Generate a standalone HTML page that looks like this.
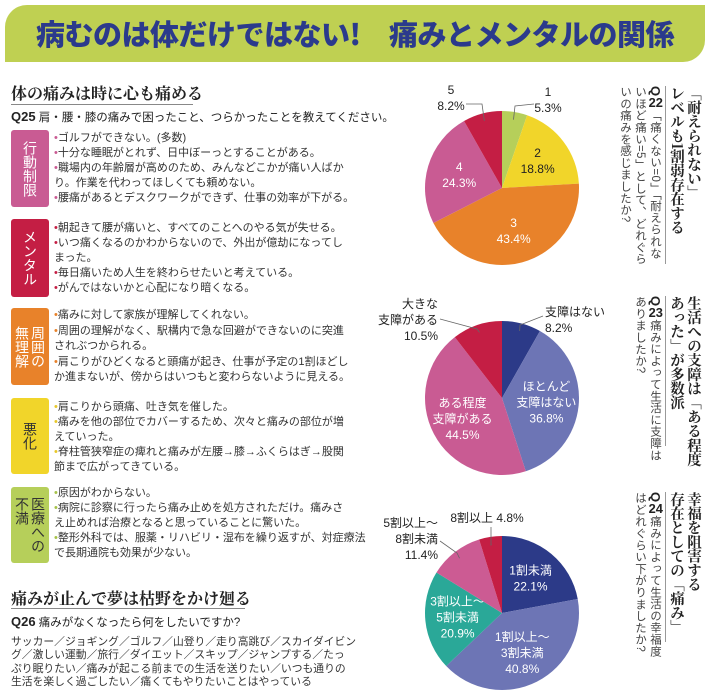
<!DOCTYPE html>
<html lang="ja"><head><meta charset="utf-8">
<style>
*{margin:0;padding:0;box-sizing:border-box}
body{width:710px;height:700px;background:#fff;position:relative;overflow:hidden;font-family:"Liberation Sans","Noto Sans CJK JP",sans-serif;color:#333}
.abs{position:absolute}
#band{left:5px;top:5px;width:700px;height:57px;background:#bfd052;border-radius:22px 0 22px 0}
#title{left:0;top:5px;width:710px;height:57px;line-height:57px;text-align:center;font-family:"Noto Sans CJK JP",sans-serif;font-weight:900;font-size:29px;color:#2b3a8c;letter-spacing:-0.5px}
.sec{font-family:"Noto Serif CJK SC","Liberation Serif",serif;font-weight:700;font-size:16px;color:#222;white-space:nowrap}
.rule{height:1px;background:#888}
.q{font-size:11.5px;white-space:nowrap;color:#222}
.q b{font-size:13px}
.box{left:11px;width:38px;border-radius:3px;color:#fff;font-size:14px;line-height:16px;display:flex;align-items:center;justify-content:center;writing-mode:vertical-rl;text-align:left}
.txt{left:54px;font-size:11px;line-height:15px;white-space:nowrap;color:#333}
.col{position:absolute;writing-mode:vertical-rl;white-space:nowrap}
.hd{font-family:"Noto Serif CJK SC","Liberation Serif",serif;font-weight:700;font-size:14.5px;line-height:15px;width:15px;color:#222;letter-spacing:-0.3px}
.vq{font-size:11.5px;line-height:12px;width:12px;color:#444;letter-spacing:0.3px}
.vq b{font-size:13px;color:#222}
.vq b.n{text-combine-upright:all}
.vline{width:1px;background:#999}
</style></head>
<body>
<div id="band" class="abs"></div>
<div id="title" class="abs">病むのは体だけではない!　痛みとメンタルの関係</div>

<div class="abs sec" style="left:11px;top:81px">体の痛みは時に心も痛める</div>
<div class="abs rule" style="left:11px;top:104px;width:182px"></div>
<div class="abs q" style="left:11px;top:109px"><b>Q25</b> 肩・腰・膝の痛みで困ったこと、つらかったことを教えてください。</div>

<div class="abs box" style="top:130px;height:77px;background:#c95b93">行動制限</div>
<div class="abs txt" style="top:131px"><span style="color:#c95b93">•</span>ゴルフができない。(多数)<br><span style="color:#c95b93">•</span>十分な睡眠がとれず、日中ぼーっとすることがある。<br><span style="color:#c95b93">•</span>職場内の年齢層が高めのため、みんなどこかが痛い人ばか<br>り。作業を代わってほしくても頼めない。<br><span style="color:#c95b93">•</span>腰痛があるとデスクワークができず、仕事の効率が下がる。</div>

<div class="abs box" style="top:219px;height:78px;background:#c41e44">メンタル</div>
<div class="abs txt" style="top:221px"><span style="color:#c41e44">•</span>朝起きて腰が痛いと、すべてのことへのやる気が失せる。<br><span style="color:#c41e44">•</span>いつ痛くなるのかわからないので、外出が億劫になってし<br>まった。<br><span style="color:#c41e44">•</span>毎日痛いため人生を終わらせたいと考えている。<br><span style="color:#c41e44">•</span>がんではないかと心配になり暗くなる。</div>

<div class="abs box" style="top:308px;height:77px;background:#e8822a">周囲の<br>無理解</div>
<div class="abs txt" style="top:308px;line-height:15.5px"><span style="color:#e8822a">•</span>痛みに対して家族が理解してくれない。<br><span style="color:#e8822a">•</span>周囲の理解がなく、駅構内で急な回避ができないのに突進<br>されぶつかられる。<br><span style="color:#e8822a">•</span>肩こりがひどくなると頭痛が起き、仕事が予定の1割ほどし<br>か進まないが、傍からはいつもと変わらないように見える。</div>

<div class="abs box" style="top:398px;height:76px;background:#f1d52a;color:#333">悪化</div>
<div class="abs txt" style="top:400px"><span style="color:#e8c82a">•</span>肩こりから頭痛、吐き気を催した。<br><span style="color:#e8c82a">•</span>痛みを他の部位でカバーするため、次々と痛みの部位が増<br>えていった。<br><span style="color:#e8c82a">•</span>脊柱管狭窄症の痺れと痛みが左腰→膝→ふくらはぎ→股関<br>節まで広がってきている。</div>

<div class="abs box" style="top:487px;height:76px;background:#b6cf5a;color:#333">医療への<br>不満</div>
<div class="abs txt" style="top:486px"><span style="color:#a6c24a">•</span>原因がわからない。<br><span style="color:#a6c24a">•</span>病院に診察に行ったら痛み止めを処方されただけ。痛みさ<br>え止めれば治療となると思っていることに驚いた。<br><span style="color:#a6c24a">•</span>整形外科では、服薬・リハビリ・湿布を繰り返すが、対症療法<br>で長期通院も効果が少ない。</div>

<div class="abs sec" style="left:11px;top:586px">痛みが止んで夢は枯野をかけ廻る</div>
<div class="abs rule" style="left:11px;top:608px;width:234px"></div>
<div class="abs q" style="left:11px;top:614px"><b>Q26</b> 痛みがなくなったら何をしたいですか?</div>
<div class="abs txt" style="left:11px;top:636px;line-height:13.3px;font-size:10.8px">サッカー／ジョギング／ゴルフ／山登り／走り高跳び／スカイダイビン<br>グ／激しい運動／旅行／ダイエット／スキップ／ジャンプする／たっ<br>ぷり眠りたい／痛みが起こる前までの生活を送りたい／いつも通りの<br>生活を楽しく過ごしたい／痛くてもやりたいことはやっている</div>

<!-- right vertical block 1 -->
<div class="abs vline" style="left:665px;top:86px;height:178px"></div>
<div class="col hd" style="left:687px;top:86px">「耐えられない」</div>
<div class="col hd" style="left:670px;top:86px">レベルも1割弱存在する</div>
<div class="col vq" style="left:649px;top:86px"><b>Q</b><b class="n">22</b>「痛くない=0」「耐えられな</div>
<div class="col vq" style="left:634px;top:86px">いほど痛い=5」として、どれぐら</div>
<div class="col vq" style="left:619px;top:86px">いの痛みを感じましたか?</div>

<!-- block 2 -->
<div class="abs vline" style="left:665px;top:296px;height:150px"></div>
<div class="col hd" style="left:687px;top:296px">生活への支障は「ある程度</div>
<div class="col hd" style="left:670px;top:296px">あった」が多数派</div>
<div class="col vq" style="left:649px;top:296px"><b>Q</b><b class="n">23</b>痛みによって生活に支障は</div>
<div class="col vq" style="left:634px;top:296px">ありましたか?</div>

<!-- block 3 -->
<div class="abs vline" style="left:665px;top:492px;height:150px"></div>
<div class="col hd" style="left:687px;top:492px">幸福を阻害する</div>
<div class="col hd" style="left:670px;top:492px">存在としての「痛み」</div>
<div class="col vq" style="left:649px;top:492px"><b>Q</b><b class="n">24</b>痛みによって生活の幸福度</div>
<div class="col vq" style="left:634px;top:492px">はどれぐらい下がりましたか?</div>

<svg id="pies" class="abs" style="left:0;top:0" width="710" height="700"></svg>

<script>
const pie1Labels = ["1","2","3","4","5"];
const pie1Values = [5.3, 18.8, 43.4, 24.3, 8.2];
const pie2Labels = ["支障はない","ほとんど|支障はない","ある程度|支障がある","大きな|支障がある"];
const pie2Values = [8.2, 36.8, 44.5, 10.5];
const pie3Labels = ["1割未満","1割以上～|3割未満","3割以上～|5割未満","5割以上～|8割未満","8割以上"];
const pie3Values = [22.1, 40.8, 20.9, 11.4, 4.8];

const NS = "http://www.w3.org/2000/svg";
const svg = document.getElementById("pies");
const R = 77;
function pt(cx, cy, r, frac){const a = frac*2*Math.PI; return [cx + r*Math.sin(a), cy - r*Math.cos(a)];}
function txt(x, y, lines, color, anchor, name){
  const t = document.createElementNS(NS, "text");
  
  
  t.setAttribute("x", x); t.setAttribute("y", y);
  t.setAttribute("fill", color); t.setAttribute("text-anchor", anchor || "middle");
  t.setAttribute("font-size", "12");
  t.setAttribute("font-family", '"Liberation Sans","Noto Sans CJK JP",sans-serif');
  lines.forEach((l, i) => {
    const s = document.createElementNS(NS, "tspan");
    s.setAttribute("x", x); s.setAttribute("dy", i ? 16 : 0);
    s.textContent = l; t.appendChild(s);
  });
  svg.appendChild(t);
}
function leader(pts, name){
  const p = document.createElementNS(NS, "polyline");
  
  
  p.setAttribute("points", pts.map(q => q.join(",")).join(" "));
  p.setAttribute("fill", "none"); p.setAttribute("stroke", "#666"); p.setAttribute("stroke-width", "0.8");
  svg.appendChild(p);
}
function drawPie(cx, cy, values, labels, colors, txtColors, outside, prefix){
  const total = values.reduce((a, b) => a + b, 0);
  let acc = 0;
  values.forEach((v, i) => {
    const s = acc/total, e = (acc + v)/total; acc += v;
    const [x1, y1] = pt(cx, cy, R, s), [x2, y2] = pt(cx, cy, R, e);
    const path = document.createElementNS(NS, "path");
    
    
    path.setAttribute("d", `M${cx},${cy} L${x1},${y1} A${R},${R} 0 ${e - s > 0.5 ? 1 : 0} 1 ${x2},${y2} Z`);
    path.setAttribute("fill", colors[i]);
    svg.appendChild(path);
    const lines = labels[i].split("|").concat([v.toFixed(1) + "%"]);
    const mid = (s + e)/2;
    if (outside[i]) {
      const o = outside[i];
      const inner = pt(cx, cy, R*0.9, mid);
      leader([inner, o.lp, o.lp2], prefix + "-leader-" + (i+1));
      const ls = o.single ? [lines.join(" ")] : lines;
      txt(o.x, o.y, ls, "#222", o.anchor, prefix + "-label-" + (i+1));
    } else {
      const [lx, ly] = pt(cx, cy, R*0.58, mid);
      txt(lx, ly - (lines.length - 1)*8 + 4, lines, txtColors[i], "middle", prefix + "-label-" + (i+1));
    }
  });
}
drawPie(502, 188, pie1Values, pie1Labels,
  ["#b6cf5a","#f1d52a","#e8822a","#c95b93","#c41e44"],
  ["#222","#222","#fff","#fff","#fff"],
  [{x:548,y:96,anchor:"middle",lp:[515,106],lp2:[534,104]}, null, null, null,
   {x:451,y:94,anchor:"middle",lp:[482,104],lp2:[466,104]}], "pie-q22");
drawPie(502, 398, pie2Values, pie2Labels,
  ["#2c3a88","#6d75b5","#c95b93","#c41e44"],
  ["#fff","#fff","#fff","#fff"],
  [{x:545,y:316,anchor:"start",lp:[520,325],lp2:[543,316]}, null, null,
   {x:438,y:308,anchor:"end",lp:[477,329],lp2:[440,319]}], "pie-q23");
drawPie(502, 613, pie3Values, pie3Labels,
  ["#2c3a88","#6d75b5","#2aa898","#cc5b93","#c41e44"],
  ["#fff","#fff","#fff","#fff","#fff"],
  [null, null, null,
   {x:438,y:527,anchor:"end",lp:[457,553],lp2:[440,541]},
   {x:487,y:522,anchor:"middle",single:true,lp:[491,545],lp2:[491,527]}], "pie-q24");
</script>
</body></html>
